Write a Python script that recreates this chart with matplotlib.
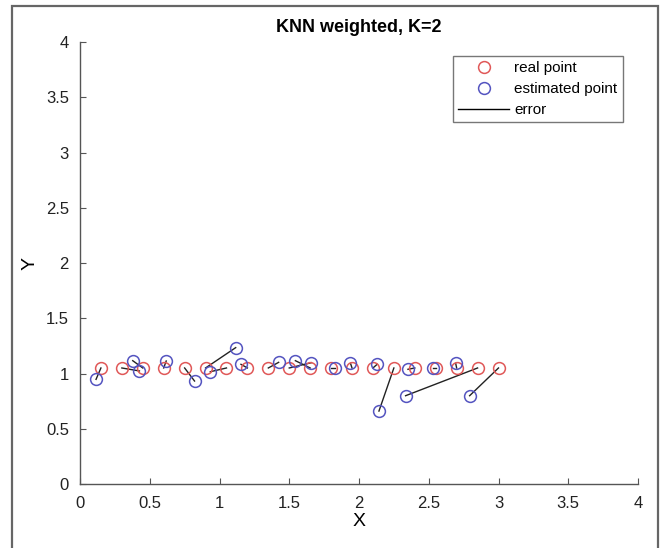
import matplotlib
matplotlib.use("Agg")
import matplotlib.pyplot as plt
from matplotlib.patches import Rectangle
import numpy as np

plt.rcParams['font.family'] = ['Liberation Sans', 'DejaVu Sans']

real_x = [0.15, 0.30, 0.45, 0.60, 0.75, 0.90, 1.05, 1.20, 1.35, 1.50,
          1.65, 1.80, 1.95, 2.10, 2.25, 2.40, 2.55, 2.70, 2.85, 3.00]
real_y = [1.05] * 20
est_x = [0.115, 0.426, 0.378, 0.618, 0.821, 1.116, 0.934, 1.154, 1.424, 1.659,
         1.544, 1.829, 1.939, 2.130, 2.143, 2.351, 2.528, 2.693, 2.334, 2.793]
est_y = [0.947, 1.023, 1.116, 1.113, 0.932, 1.234, 1.016, 1.083, 1.101, 1.098,
         1.116, 1.050, 1.092, 1.083, 0.660, 1.038, 1.050, 1.092, 0.799, 0.799]
ticks = [0, 0.5, 1, 1.5, 2, 2.5, 3, 3.5, 4]
tick_labels = ['0', '0.5', '1', '1.5', '2', '2.5', '3', '3.5', '4']

fig = plt.figure(figsize=(6.6, 5.48), dpi=100)
ax = fig.add_axes([80/660, 1-484/548, (638-80)/660, (484-42)/548])

red = '#e05858'
blue = '#5454c0'

for rx, ry, ex, ey in zip(real_x, real_y, est_x, est_y):
    ax.plot([rx, ex], [ry, ey], color='#222222', lw=1.0, zorder=1)
ax.plot([], [], color='black', lw=1.0, label='error')
ax.plot(real_x, real_y, 'o', ms=8.5, mfc='none', mec=red, mew=1.1, zorder=2, label='real point')
ax.plot(est_x, est_y, 'o', ms=8.5, mfc='none', mec=blue, mew=1.1, zorder=3, label='estimated point')

ax.set_xlim(0, 4)
ax.set_ylim(0, 4)
ax.set_xticks(ticks)
ax.set_xticklabels(tick_labels)
ax.set_yticks(ticks)
ax.set_yticklabels(tick_labels)
ax.spines['top'].set_visible(False)
ax.spines['right'].set_visible(False)
for s in ['left', 'bottom']:
    ax.spines[s].set_color('#555555')
    ax.spines[s].set_linewidth(1.0)
ax.tick_params(direction='in', length=4, width=0.8, color='#555555',
               labelsize=12, labelcolor='#222222')
ax.tick_params(axis='x', pad=9)
ax.tick_params(axis='y', pad=8)

ax.set_title('KNN weighted, K=2', fontsize=13, fontweight='bold', pad=7)
ax.set_xlabel('X', fontsize=14, labelpad=1)
ax.set_ylabel('Y', fontsize=14, labelpad=5)

handles, labels = ax.get_legend_handles_labels()
order = [1, 2, 0]
leg = ax.legend([handles[i] for i in order], [labels[i] for i in order],
                loc='upper left', bbox_to_anchor=((453-80)/558, (484-56)/442),
                fontsize=11, frameon=True, fancybox=False, handlelength=3.3,
                borderpad=0.35, labelspacing=0.45, handletextpad=0.35, borderaxespad=0)
leg.get_frame().set_edgecolor('#555555')
leg.get_frame().set_linewidth(1.0)

fig.patches.append(Rectangle((12/660, -0.02), (658-12)/660, 542/548 + 0.02,
                             transform=fig.transFigure, fill=False,
                             edgecolor='#666666', lw=1.6))

fig.savefig('out.png', dpi=100)
